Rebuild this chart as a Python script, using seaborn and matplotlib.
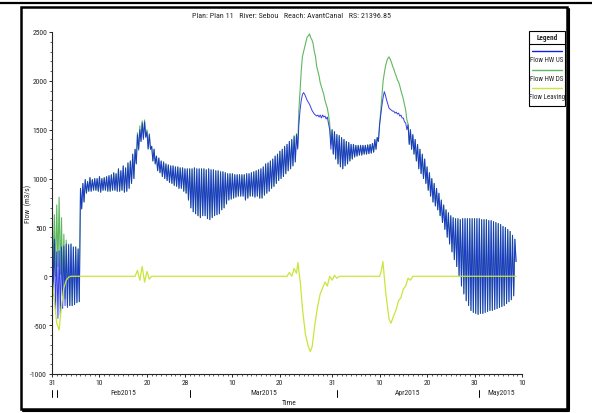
import numpy as np
import pandas as pd
import matplotlib
matplotlib.use("Agg")
import matplotlib.pyplot as plt
import matplotlib.transforms as mtrans
from matplotlib import font_manager
import seaborn as sns
from matplotlib.patches import Rectangle
from matplotlib.lines import Line2D

# Flow HW US, one row per day from 31 Jan 2015 00:00, values every 6 h (m3/s)
us_rows = [
    (1000, -200, 380, -380), (250, -430, 260, -400), (300, -330, 310, -300), (330, -320, 320, -300),
    (330, -300, 300, -290), (300, -270, 280, -260), (900, 690, 950, 760), (990, 850, 970, 870),
    (1010, 870, 990, 880), (1000, 880, 1000, 870), (1020, 860, 1000, 880), (1010, 880, 1020, 870),
    (1030, 870, 1040, 880), (1060, 880, 1050, 870), (1100, 870, 1080, 880), (1130, 860, 1110, 870),
    (1160, 900, 1180, 950), (1250, 1000, 1300, 1150), (1450, 1300, 1500, 1380), (1570, 1400, 1580, 1420),
    (1480, 1300, 1450, 1300), (1330, 1180, 1300, 1150), (1230, 1080, 1210, 1060), (1180, 1020, 1170, 1000),
    (1150, 980, 1140, 960), (1130, 950, 1130, 930), (1120, 920, 1120, 900), (1110, 900, 1110, 870),
    (1100, 850, 1100, 780), (1100, 700, 1100, 660), (1110, 640, 1100, 620), (1100, 600, 1100, 620),
    (1100, 620, 1090, 590), (1100, 580, 1090, 600), (1090, 620, 1080, 630), (1080, 640, 1070, 680),
    (1070, 700, 1060, 740), (1050, 780, 1050, 790), (1050, 800, 1040, 810), (1040, 820, 1040, 820),
    (1040, 820, 1040, 780), (1050, 800, 1050, 820), (1060, 820, 1070, 810), (1080, 820, 1090, 800),
    (1100, 800, 1120, 830), (1150, 850, 1160, 870), (1180, 900, 1200, 920), (1230, 950, 1250, 980),
    (1280, 1000, 1300, 1020), (1330, 1050, 1350, 1080), (1380, 1100, 1400, 1130), (1430, 1170, 1450, 1300),
    (1550, 1700, 1800, 1860), (1880, 1860, 1830, 1800), (1780, 1760, 1730, 1700), (1680, 1660, 1650, 1640),
    (1650, 1630, 1650, 1620), (1650, 1630, 1640, 1610), (1630, 1560, 1500, 1300), (1500, 1250, 1480, 1200),
    (1450, 1150, 1440, 1120), (1420, 1100, 1400, 1130), (1380, 1150, 1370, 1180), (1350, 1200, 1350, 1220),
    (1340, 1230, 1340, 1240), (1340, 1240, 1340, 1250), (1340, 1250, 1345, 1255), (1350, 1260, 1360, 1270),
    (1400, 1300, 1420, 1380), (1550, 1650, 1750, 1830), (1890, 1850, 1800, 1760), (1720, 1710, 1700, 1690),
    (1690, 1670, 1680, 1660), (1670, 1640, 1650, 1620), (1620, 1580, 1570, 1500), (1550, 1350, 1500, 1300),
    (1450, 1250, 1400, 1180), (1350, 1100, 1300, 1050), (1250, 1000, 1200, 950), (1120, 880, 1060, 820),
    (1000, 760, 950, 720), (900, 680, 850, 620), (780, 550, 730, 480), (680, 400, 650, 330),
    (620, 250, 600, 170), (590, 100, 590, 0), (580, -100, 590, -180), (590, -250, 590, -300),
    (590, -350, 590, -370), (590, -380, 590, -390), (590, -380, 580, -380), (580, -370, 580, -360),
    (570, -350, 570, -350), (560, -340, 550, -330), (540, -320, 530, -310), (510, -300, 500, -280),
    (480, -260, 460, -240), (420, -200, 380, 150),
]

# Flow HW DS equals the upstream flow except on the days listed here
ds_rows = list(us_rows)
ds_rows[0:4] = [(1000, -80, 630, 0), (730, 100, 810, 20), (600, -130, 430, -230), (370, -300, 330, -300)]
ds_rows[18:21] = [(1470, 1290, 1540, 1380), (1590, 1420, 1600, 1430), (1500, 1310, 1460, 1300)]
ds_rows[51:59] = [(1440, 1170, 1460, 1320), (1700, 1900, 2100, 2250), (2300, 2350, 2400, 2450),
                  (2460, 2480, 2440, 2420), (2380, 2300, 2250, 2150), (2100, 2050, 1980, 1940),
                  (1900, 1860, 1800, 1760), (1720, 1650, 1560, 1350)]
ds_rows[69:76] = [(1550, 1700, 1850, 2000), (2080, 2150, 2200, 2230), (2245, 2220, 2190, 2150),
                  (2120, 2080, 2050, 2010), (1990, 1950, 1900, 1860), (1815, 1760, 1700, 1600),
                  (1560, 1350, 1500, 1300)]

# Flow Leaving (day, m3/s)
leave_t = [0, 0.5, 1.0, 1.5, 2.0, 2.5, 3.0, 3.5, 4.0, 17.5, 18, 18.5, 19, 19.5, 20, 20.5, 21,
           49.5, 50, 50.5, 51, 51.5, 51.8, 52.3, 52.8, 53.4, 54.0, 54.4, 54.8, 55.3, 55.9,
           56.5, 57, 57.5, 58, 58.5, 59, 59.5, 60, 60.5, 69, 69.3, 69.7, 70.3, 71.0, 71.4,
           72.0, 72.5, 73, 73.5, 74, 74.5, 75, 75.5, 76, 97.75]
leave_v = [0, -250, -480, -550, -300, -120, -40, -10, 0, 0, 60, -40, 100, -60, 50, -30, 0,
           0, 40, 0, 80, 30, 140, -60, -350, -600, -720, -770, -720, -520, -320,
           -180, -120, -60, -100, 0, -40, 10, -20, 0, 0, 40, 150, -170, -440, -480,
           -400, -340, -250, -220, -130, -100, -20, -40, 0, 0]

day_ticks = [0, 10, 20, 28, 38, 48, 59, 69, 79, 89, 99]
day_labels = ["31", "10", "20", "28", "10", "20", "31", "10", "20", "30", "10"]
month_edges = [0, 1, 29, 60, 90]
month_names = ["Feb2015", "Mar2015", "Apr2015", "May2015"]
series_names = ["Flow HW US", "Flow HW DS", "Flow Leaving"]
series_colors = ["#1020e0", "#5fb85f", "#c8e63c"]


def flatten(rows):
    t, v = [], []
    for d, row in enumerate(rows):
        for k, val in enumerate(row):
            t.append(d + k / 4)
            v.append(val)
    return t, v


t_us, v_us = flatten(us_rows)
t_ds, v_ds = flatten(ds_rows)
df = pd.concat([
    pd.DataFrame({"t": t_us, "flow": v_us, "series": series_names[0]}),
    pd.DataFrame({"t": t_ds, "flow": v_ds, "series": series_names[1]}),
    pd.DataFrame({"t": leave_t, "flow": leave_v, "series": series_names[2]}),
], ignore_index=True)

sns.set_style("ticks")
# a narrow face like the original if one is installed
installed = {(f.name, f.stretch) for f in font_manager.fontManager.ttflist}
names = {n for n, _ in installed}
narrow = None
for cand in ["Liberation Sans Narrow", "Roboto Condensed", "Open Sans Condensed"]:
    if cand in names:
        narrow = cand
        break
if narrow is None and any(n == "DejaVu Sans" and s in ("condensed", 400, "semi-condensed") for n, s in installed):
    narrow = "DejaVu Sans"
plt.rcParams['font.family'] = [narrow or 'Liberation Sans', 'DejaVu Sans']
plt.rcParams['font.stretch'] = 'condensed'
scale = 1.0 if narrow else 0.85

W, H = 592, 414
fig = plt.figure(figsize=(W / 100, H / 100), dpi=100)
fx = lambda px: px / W
fy = lambda py: 1 - py / H
ax = fig.add_axes([fx(52), fy(375), fx(522) - fx(52), fy(33) - fy(375)])

sns.lineplot(data=df[df.series == series_names[1]], x="t", y="flow", color=series_colors[1],
             lw=0.8, ax=ax, estimator=None, sort=False)
sns.lineplot(data=df[df.series == series_names[0]], x="t", y="flow", color=series_colors[0],
             lw=0.7, alpha=0.85, ax=ax, estimator=None, sort=False)
sns.lineplot(data=df[df.series == series_names[2]], x="t", y="flow", color=series_colors[2],
             lw=0.9, ax=ax, estimator=None, sort=False)

fs = 5.5 * scale
ax.set_xlim(0, 99)
ax.set_ylim(-1000, 2500)
ax.set_yticks(np.arange(-1000, 2501, 500))
ax.set_yticklabels([str(v) for v in range(-1000, 2501, 500)])
ax.set_yticks(np.arange(-1000, 2501, 100), minor=True)
ax.set_xticks(day_ticks)
ax.set_xticklabels(day_labels)
ax.set_xticks(np.arange(0, 100, 1), minor=True)
ax.tick_params(axis="both", which="major", labelsize=fs, length=2.5, width=0.7, pad=1)
ax.tick_params(axis="both", which="minor", length=1.5, width=0.5)
sns.despine(ax=ax)
for s in ["left", "bottom"]:
    ax.spines[s].set_linewidth(0.8)
ax.set_xlabel("")
ax.set_ylabel("Flow  (m3/s)", fontsize=fs)
ax.yaxis.set_label_coords(-0.043, 0.5)

# month row under the day labels
trans = mtrans.blended_transform_factory(ax.transData, ax.transAxes)
for e in month_edges:
    ax.plot([e, e], [-0.048, -0.068], color="black", lw=0.7, transform=trans, clip_on=False)
for i, name in enumerate(month_names):
    lo, hi = month_edges[i + 1], (month_edges[i + 2] if i + 2 < len(month_edges) else 99)
    ax.text((lo + hi) / 2, -0.053, name, transform=trans, ha="center", va="center", fontsize=fs)
ax.text(0.505, -0.082, "Time", transform=ax.transAxes, ha="center", va="center", fontsize=fs)

fig.text(fx(291), fy(16), "Plan: Plan 11   River: Sebou   Reach: AvantCanal   RS: 21396.85",
         ha="center", va="center", fontsize=5.8 * scale)

# outer frame
fig.add_artist(Line2D([0, 1], [fy(3.5), fy(3.5)], color="black", lw=1.6, transform=fig.transFigure))
fig.add_artist(Rectangle((fx(21), fy(410)), fx(567) - fx(21), fy(8) - fy(410), fill=False,
                         ec="black", lw=1.8, transform=fig.transFigure))
fig.add_artist(Line2D([fx(569), fx(569)], [fy(411), fy(10)], color="black", lw=1.5, transform=fig.transFigure))
fig.add_artist(Line2D([fx(23), fx(569)], [fy(412), fy(412)], color="black", lw=1.5, transform=fig.transFigure))

# legend box
fig.add_artist(Rectangle((fx(529), fy(107)), fx(565) - fx(529), fy(32) - fy(107), fill=False,
                         ec="black", lw=0.8, transform=fig.transFigure))
fig.add_artist(Line2D([fx(529), fx(565)], [fy(45), fy(45)], color="black", lw=0.8, transform=fig.transFigure))
fig.text(fx(547), fy(38.5), "Legend", ha="center", va="center", fontsize=5.2 * scale, weight="bold")
for i, (name, col) in enumerate(zip(series_names, series_colors)):
    yl = 52 + i * 18.5
    fig.add_artist(Line2D([fx(532), fx(562)], [fy(yl), fy(yl)], color=col, lw=1.0, transform=fig.transFigure))
    fig.text(fx(547), fy(yl + 9), name, ha="center", va="center", fontsize=5.0 * scale)

fig.savefig("out.png", dpi=100)
